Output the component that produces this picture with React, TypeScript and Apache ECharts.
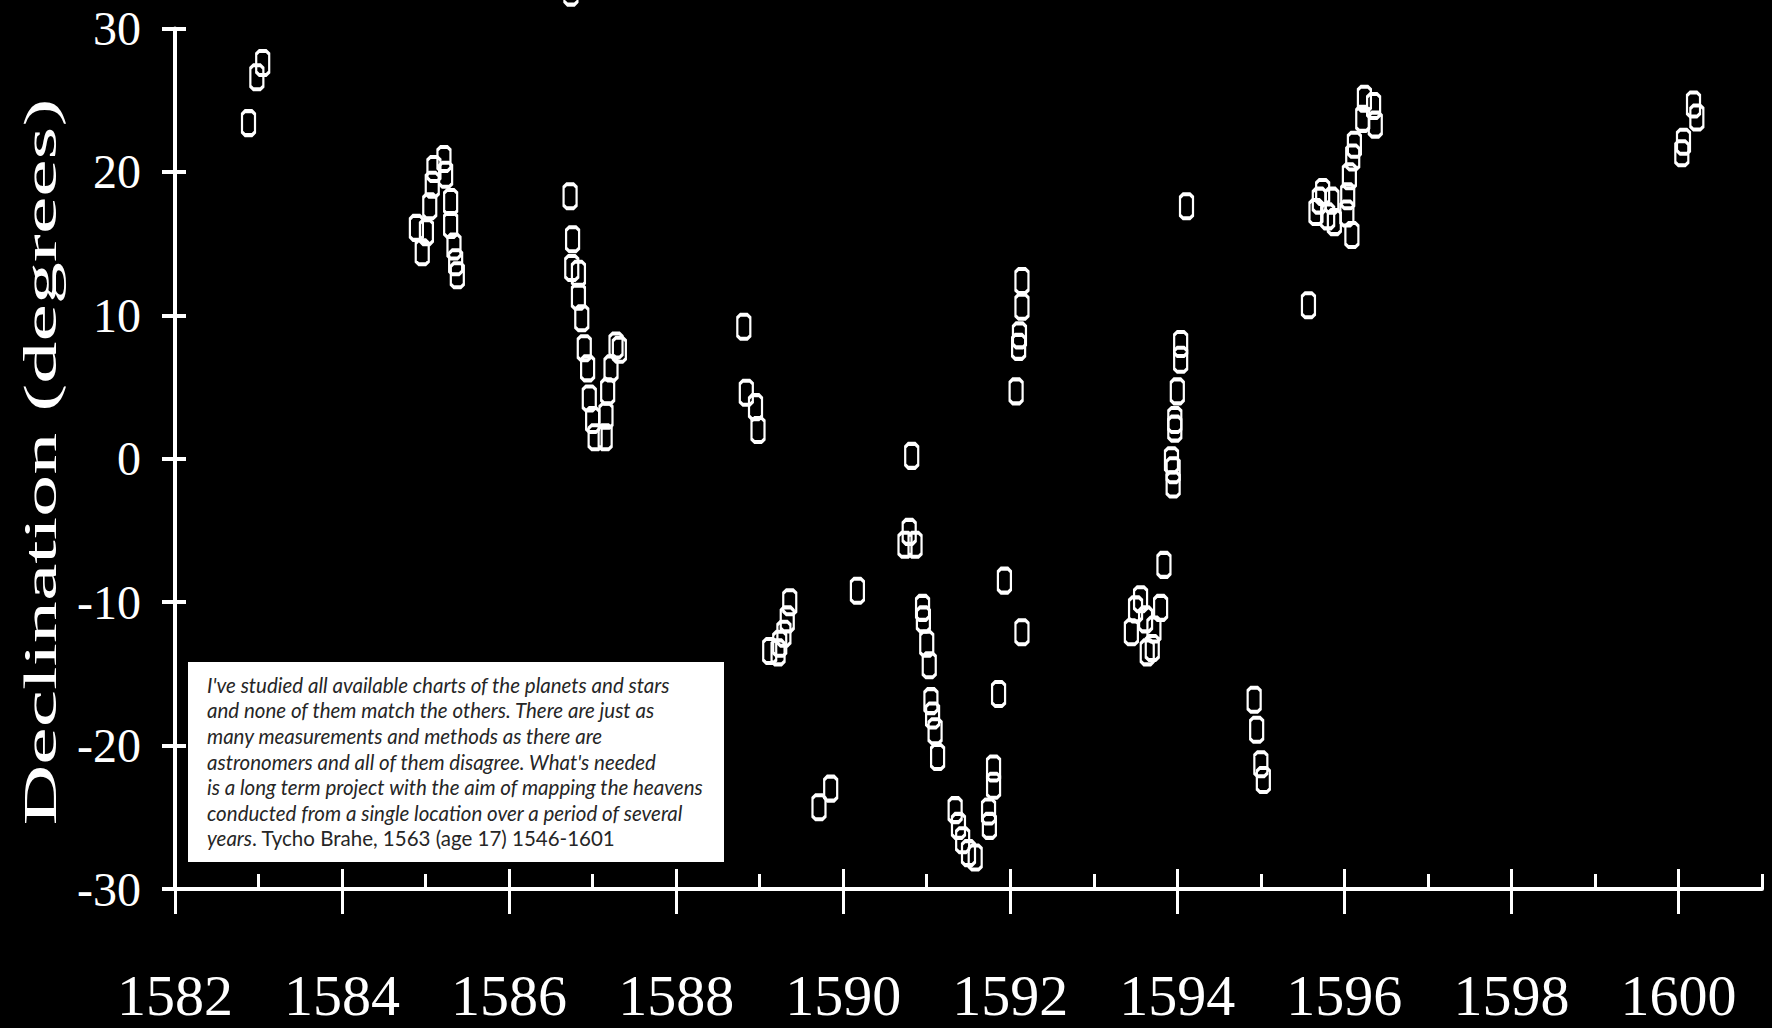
import React, { useEffect, useRef } from "react";
import * as echarts from "echarts";

// ---- axes ----
const xMin = 1582;
const xMax = 1601;
const yMin = -30;
const yMax = 30;
const yInterval = 10;
const majorYears = [1582, 1584, 1586, 1588, 1590, 1592, 1594, 1596, 1598, 1600];
const minorYears = [1583, 1585, 1587, 1589, 1591, 1593, 1595, 1597, 1599, 1601];

// ---- observations [year, declination in degrees] ----
const obs1583 = [[1583.05, 27.6], [1582.98, 26.6], [1582.88, 23.4]];
const obs1585 = [
  [1585.22, 20.9], [1585.24, 19.8], [1585.1, 20.2], [1585.08, 19.1], [1585.05, 17.6],
  [1585.3, 17.9], [1585.3, 16.3], [1585.34, 14.8], [1585.36, 13.7], [1585.38, 12.8],
  [1584.89, 16.1], [1585.01, 15.8], [1584.96, 14.4],
];
const obs1587 = [
  [1586.74, 32.5], [1586.73, 18.3], [1586.76, 15.3], [1586.75, 13.3], [1586.83, 12.9],
  [1586.83, 11.3], [1586.87, 9.8], [1586.9, 7.7], [1586.94, 6.3], [1586.96, 4.2],
  [1587.0, 2.7], [1587.03, 1.5], [1587.15, 1.5], [1587.28, 7.9], [1587.32, 7.6],
  [1587.22, 6.3], [1587.18, 4.7], [1587.16, 3.0],
];
const obs1589 = [
  [1588.81, 9.2], [1588.84, 4.6], [1588.95, 3.6], [1588.98, 2.0],
  [1589.36, -10.0], [1589.33, -11.2], [1589.29, -12.2], [1589.24, -12.9], [1589.12, -13.4], [1589.22, -13.5],
  [1589.85, -23.0], [1589.71, -24.3],
];
const obs1590 = [[1590.17, -9.2]];
const obs1591 = [
  [1590.82, 0.2], [1590.79, -5.1], [1590.86, -6.0], [1590.74, -6.0],
  [1590.95, -10.4], [1590.96, -11.2], [1591.0, -12.9], [1591.03, -14.4],
  [1591.05, -16.9], [1591.07, -17.9], [1591.1, -19.0], [1591.13, -20.8],
  [1591.34, -24.5], [1591.38, -25.6], [1591.43, -26.6], [1591.5, -27.5], [1591.58, -27.8],
  [1591.8, -21.6], [1591.8, -22.8], [1591.74, -24.6], [1591.75, -25.6], [1591.86, -16.4],
  [1591.93, -8.5],
];
const obs1592 = [[1592.14, 12.4], [1592.14, 10.6], [1592.11, 8.6], [1592.1, 7.8], [1592.07, 4.7], [1592.14, -12.1]];
const obs1593 = [
  [1593.56, -9.8], [1593.5, -10.5], [1593.8, -10.4], [1593.62, -11.2], [1593.45, -12.1],
  [1593.72, -11.9], [1593.7, -13.2], [1593.64, -13.5], [1593.84, -7.4],
];
const obs1594 = [
  [1594.04, 8.0], [1594.04, 6.9], [1594.0, 4.7], [1593.97, 2.7], [1593.97, 2.1],
  [1593.93, -0.1], [1593.95, -0.8], [1593.95, -1.8], [1594.11, 17.6],
];
const obs1595 = [[1594.92, -16.8], [1594.95, -18.9], [1595.0, -21.3], [1595.03, -22.4], [1595.57, 10.7]];
const obs1596 = [
  [1596.24, 25.1], [1596.35, 24.6], [1596.37, 23.3], [1596.22, 23.7], [1596.12, 21.9],
  [1596.1, 21.0], [1596.06, 19.7], [1596.04, 18.3], [1596.03, 17.1], [1596.09, 15.6],
  [1595.7, 18.0], [1595.66, 17.2], [1595.74, 18.6], [1595.8, 16.9], [1595.88, 16.5], [1595.85, 18.0],
];
const obs1600 = [[1600.18, 24.7], [1600.22, 23.8], [1600.06, 22.1], [1600.04, 21.3]];

// ---- texts ----
const yAxisTitle = "Declination (degrees)";
const quoteLines = [
  "I've studied all available charts of the planets and stars",
  "and none of them match the others. There are just as",
  "many measurements and methods as there are",
  "astronomers and all of them disagree. What's needed",
  "is a long term project with the aim of mapping the heavens",
  "conducted from a single location over a period of several",
];
const quoteLastItalic = "years";
const quoteAttribution = ". Tycho Brahe, 1563 (age 17) 1546-1601";

const allObs = [
  ...obs1583, ...obs1585, ...obs1587, ...obs1589, ...obs1590, ...obs1591,
  ...obs1592, ...obs1593, ...obs1594, ...obs1595, ...obs1596, ...obs1600,
];

const WHITE = "#ffffff";
const SERIF = "'Liberation Serif', 'Times New Roman', serif";
const QUOTE_FONT = "Lato, 'Open Sans', sans-serif";
const QUOTE_SIZE = 20.5;
const QUOTE_LH = 25.6;
const QUOTE_COLOR = "#262626";

export default function App() {
  const ref = useRef<HTMLDivElement>(null);

  useEffect(() => {
    if (!ref.current) return;
    const chart = echarts.init(ref.current, null, { renderer: "svg" });

    const quoteText =
      quoteLines.map((l) => `{i|${l}}`).join("\n") + `\n{i|${quoteLastItalic}}{n|${quoteAttribution}}`;

    chart.setOption({
      animation: false,
      backgroundColor: "#000000",
      grid: { left: 175, right: 10, top: 28.5, bottom: 139, containLabel: false, outerBoundsMode: "none" },
      xAxis: [
        {
          type: "value",
          min: xMin,
          max: xMax,
          position: "bottom",
          splitLine: { show: false },
          axisLine: { show: true, onZero: false, lineStyle: { color: WHITE, width: 4 } },
          axisTick: { show: true, customValues: majorYears, length: 25, lineStyle: { color: WHITE, width: 3 } },
          axisLabel: {
            show: true,
            customValues: majorYears,
            formatter: (v: number) => String(v),
            color: WHITE,
            fontFamily: SERIF,
            fontSize: 58,
            margin: 77,
          },
        },
        {
          type: "value",
          min: xMin,
          max: xMax,
          position: "bottom",
          splitLine: { show: false },
          axisLine: { show: false, onZero: false },
          axisTick: { show: true, inside: true, customValues: majorYears, length: 20, lineStyle: { color: WHITE, width: 3 } },
          axisLabel: { show: false },
        },
        {
          type: "value",
          min: xMin,
          max: xMax,
          position: "bottom",
          splitLine: { show: false },
          axisLine: { show: false, onZero: false },
          axisTick: { show: true, inside: true, customValues: minorYears, length: 15, lineStyle: { color: WHITE, width: 3 } },
          axisLabel: { show: false },
        },
      ],
      yAxis: [
        {
          type: "value",
          min: yMin,
          max: yMax,
          interval: yInterval,
          position: "left",
          splitLine: { show: false },
          axisLine: { show: true, onZero: false, lineStyle: { color: WHITE, width: 4 } },
          axisTick: { show: true, length: 13, lineStyle: { color: WHITE, width: 4 } },
          axisLabel: { show: true, color: WHITE, fontFamily: SERIF, fontSize: 48, margin: 34 },
        },
        {
          type: "value",
          min: yMin,
          max: yMax,
          interval: yInterval,
          position: "left",
          splitLine: { show: false },
          axisLine: { show: false, onZero: false },
          axisTick: { show: true, inside: true, length: 11, lineStyle: { color: WHITE, width: 4 } },
          axisLabel: { show: false },
        },
      ],
      series: [
        {
          type: "scatter",
          xAxisIndex: 0,
          yAxisIndex: 0,
          data: allObs,
          clip: false,
          symbol: "path://M3 0L10 0L13 3L13 21L10 24L3 24L0 21L0 3Z",
          symbolSize: [13, 24],
          itemStyle: { color: "rgba(0,0,0,0)", borderColor: WHITE, borderWidth: 3, opacity: 1 },
          emphasis: { disabled: true },
          silent: true,
        },
      ],
      graphic: [
        {
          type: "text",
          x: 41,
          y: 462,
          rotation: Math.PI / 2,
          scaleX: 1.83,
          silent: true,
          style: {
            text: yAxisTitle,
            fill: WHITE,
            fontFamily: SERIF,
            fontSize: 46,
            align: "center",
            verticalAlign: "middle",
            textAlign: "center",
            textVerticalAlign: "middle",
          },
        },
        {
          type: "rect",
          shape: { x: 188, y: 662, width: 536, height: 200 },
          style: { fill: WHITE },
          silent: true,
          z: 10,
        },
        {
          type: "text",
          x: 207,
          y: 672,
          silent: true,
          z: 11,
          style: {
            text: quoteText,
            fill: QUOTE_COLOR,
            fontFamily: QUOTE_FONT,
            fontSize: QUOTE_SIZE,
            lineHeight: QUOTE_LH,
            align: "left",
            verticalAlign: "top",
            rich: {
              i: { fontStyle: "italic", fontFamily: QUOTE_FONT, fontSize: QUOTE_SIZE, lineHeight: QUOTE_LH, fill: QUOTE_COLOR, color: QUOTE_COLOR },
              n: { fontStyle: "normal", fontFamily: QUOTE_FONT, fontSize: QUOTE_SIZE, lineHeight: QUOTE_LH, fill: QUOTE_COLOR, color: QUOTE_COLOR },
            },
          },
        },
      ],
    });

    return () => chart.dispose();
  }, []);

  return (
    <div
      ref={ref}
      style={{ position: "fixed", left: 0, top: 0, width: 1772, height: 1028, background: "#000" }}
    />
  );
}
